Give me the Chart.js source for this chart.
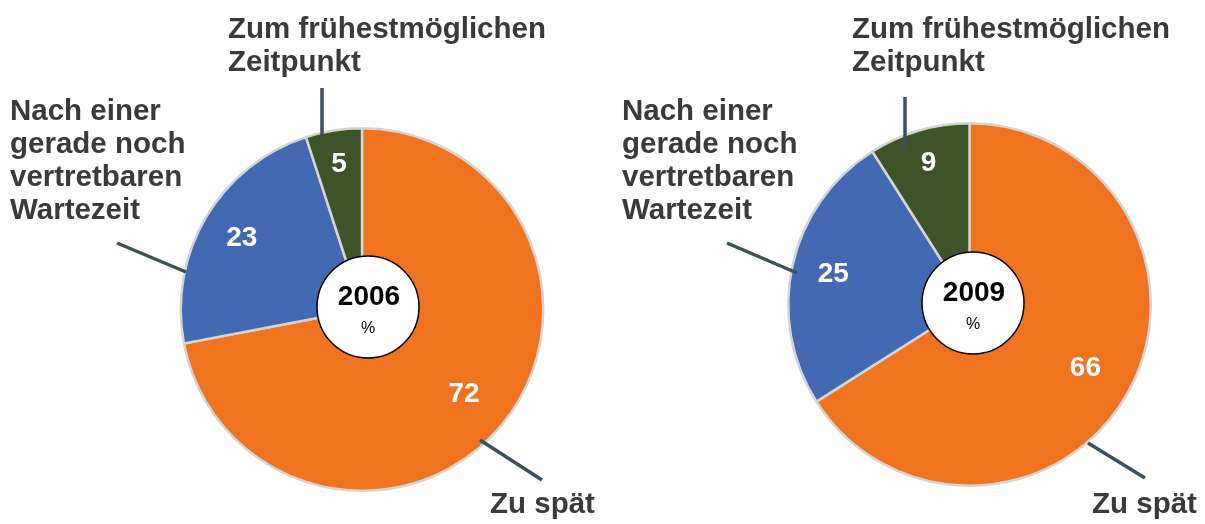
<!DOCTYPE html>
<html>
<head>
<meta charset="utf-8">
<script src="https://cdn.jsdelivr.net/npm/chart.js@4/dist/chart.umd.min.js"></script>
<style>
  html, body { margin: 0; padding: 0; background: #ffffff; font-family: 'Liberation Sans', Arial, sans-serif; }
  body { width: 1205px; height: 524px; position: relative; overflow: hidden; }
  .wrap { position: absolute; top: 0; height: 524px; }
  #w1 { left: 0; width: 602px; }
  #w2 { left: 602px; width: 603px; }
  .pre { position: absolute; left: -9999px; font-weight: bold; }
</style>
</head>
<body>
<span class="pre">Aa</span>
<div class="wrap" id="w1"><canvas id="c1"></canvas></div>
<div class="wrap" id="w2"><canvas id="c2"></canvas></div>
<script>
// ---- data ----
const categories = ["Zu spät", "Nach einer gerade noch vertretbaren Wartezeit", "Zum frühestmöglichen Zeitpunkt"];
const years = ["2006", "2009"];
const values2006 = [72, 23, 5];
const values2009 = [66, 25, 9];
const unitLabel = "%";

const colors = ["#f07320", "#4369b2", "#3f5329"];
const textColor = "#3a3a3a";
const leaderColor = "#3e4f5c";
const FONT = "'Liberation Sans', Arial, sans-serif";

// label blocks (page coordinates) for each chart
const layouts = [
  {
    offsetX: 0,
    padding: { left: 179, right: 57, top: 127, bottom: 32 },
    circle: { x: 368, y: 307, r: 51 },
    texts: [
      { lines: ["Zum frühestmöglichen", "Zeitpunkt"], x: 228, y: 30 },
      { lines: ["Nach einer", "gerade noch", "vertretbaren", "Wartezeit"], x: 10, y: 112 },
      { lines: ["Zu spät"], x: 490, y: 505 }
    ],
    leaders: [
      [322, 88, 322, 138],
      [117, 243, 186, 272],
      [480, 440, 542, 480]
    ]
  },
  {
    offsetX: 602,
    padding: { left: 185, right: 53, top: 122, bottom: 37 },
    circle: { x: 973, y: 303, r: 51 },
    texts: [
      { lines: ["Zum frühestmöglichen", "Zeitpunkt"], x: 852, y: 30 },
      { lines: ["Nach einer", "gerade noch", "vertretbaren", "Wartezeit"], x: 622, y: 112 },
      { lines: ["Zu spät"], x: 1092, y: 505 }
    ],
    leaders: [
      [905, 97, 905, 150],
      [727, 243, 797, 273],
      [1088, 443, 1145, 478]
    ]
  }
];

const labelRatio = [0.73, 0.77, 0.81];

const overlay = {
  id: 'overlay',
  afterDatasetsDraw(chart, args, opts) {
    const ctx = chart.ctx;
    const L = opts.layout;
    const ox = L.offsetX;
    ctx.save();
    // leader lines
    ctx.strokeStyle = leaderColor;
    ctx.lineWidth = 3.5;
    ctx.lineCap = 'butt';
    L.leaders.forEach(l => {
      ctx.beginPath();
      ctx.moveTo(l[0] - ox, l[1]);
      ctx.lineTo(l[2] - ox, l[3]);
      ctx.stroke();
    });
    // category texts
    ctx.fillStyle = textColor;
    ctx.font = "bold 29.5px " + FONT;
    ctx.textAlign = 'left';
    ctx.textBaseline = 'middle';
    L.texts.forEach(t => {
      t.lines.forEach((s, i) => ctx.fillText(s, t.x - ox, t.y + i * 33));
    });
    // value labels inside slices
    const meta = chart.getDatasetMeta(0);
    const data = chart.data.datasets[0].data;
    ctx.fillStyle = '#ffffff';
    ctx.font = "bold 28px " + FONT;
    ctx.textAlign = 'center';
    meta.data.forEach((arc, i) => {
      const p = arc.getProps(['x', 'y', 'startAngle', 'endAngle', 'outerRadius'], true);
      const mid = (p.startAngle + p.endAngle) / 2;
      const rr = p.outerRadius * labelRatio[i];
      ctx.fillText(String(data[i]), p.x + Math.cos(mid) * rr, p.y + Math.sin(mid) * rr);
    });
    // center circle
    const c = L.circle;
    ctx.beginPath();
    ctx.arc(c.x - ox, c.y, c.r, 0, Math.PI * 2);
    ctx.fillStyle = '#ffffff';
    ctx.fill();
    ctx.lineWidth = 1.5;
    ctx.strokeStyle = '#000000';
    ctx.stroke();
    ctx.fillStyle = '#000000';
    ctx.font = "bold 28px " + FONT;
    ctx.fillText(opts.year, c.x - ox + 1, c.y - 10);
    ctx.font = "16px " + FONT;
    ctx.fillText(unitLabel, c.x - ox, c.y + 22);
    ctx.restore();
  }
};

function makeChart(id, values, year, layout) {
  return new Chart(document.getElementById(id), {
    type: 'pie',
    data: {
      labels: categories,
      datasets: [{
        data: values,
        backgroundColor: colors,
        borderColor: '#d4d4d4',
        borderWidth: 2.5
      }]
    },
    options: {
      responsive: true,
      maintainAspectRatio: false,
      animation: false,
      layout: { padding: layout.padding },
      plugins: {
        legend: { display: false },
        tooltip: { enabled: false },
        overlay: { layout: layout, year: year }
      }
    },
    plugins: [overlay]
  });
}

function start() {
  makeChart('c1', values2006, years[0], layouts[0]);
  makeChart('c2', values2009, years[1], layouts[1]);
}
Promise.all([
  document.fonts.load("bold 29px 'Liberation Sans'"),
  document.fonts.load("16px 'Liberation Sans'")
]).then(start, start);
</script>
</body>
</html>
